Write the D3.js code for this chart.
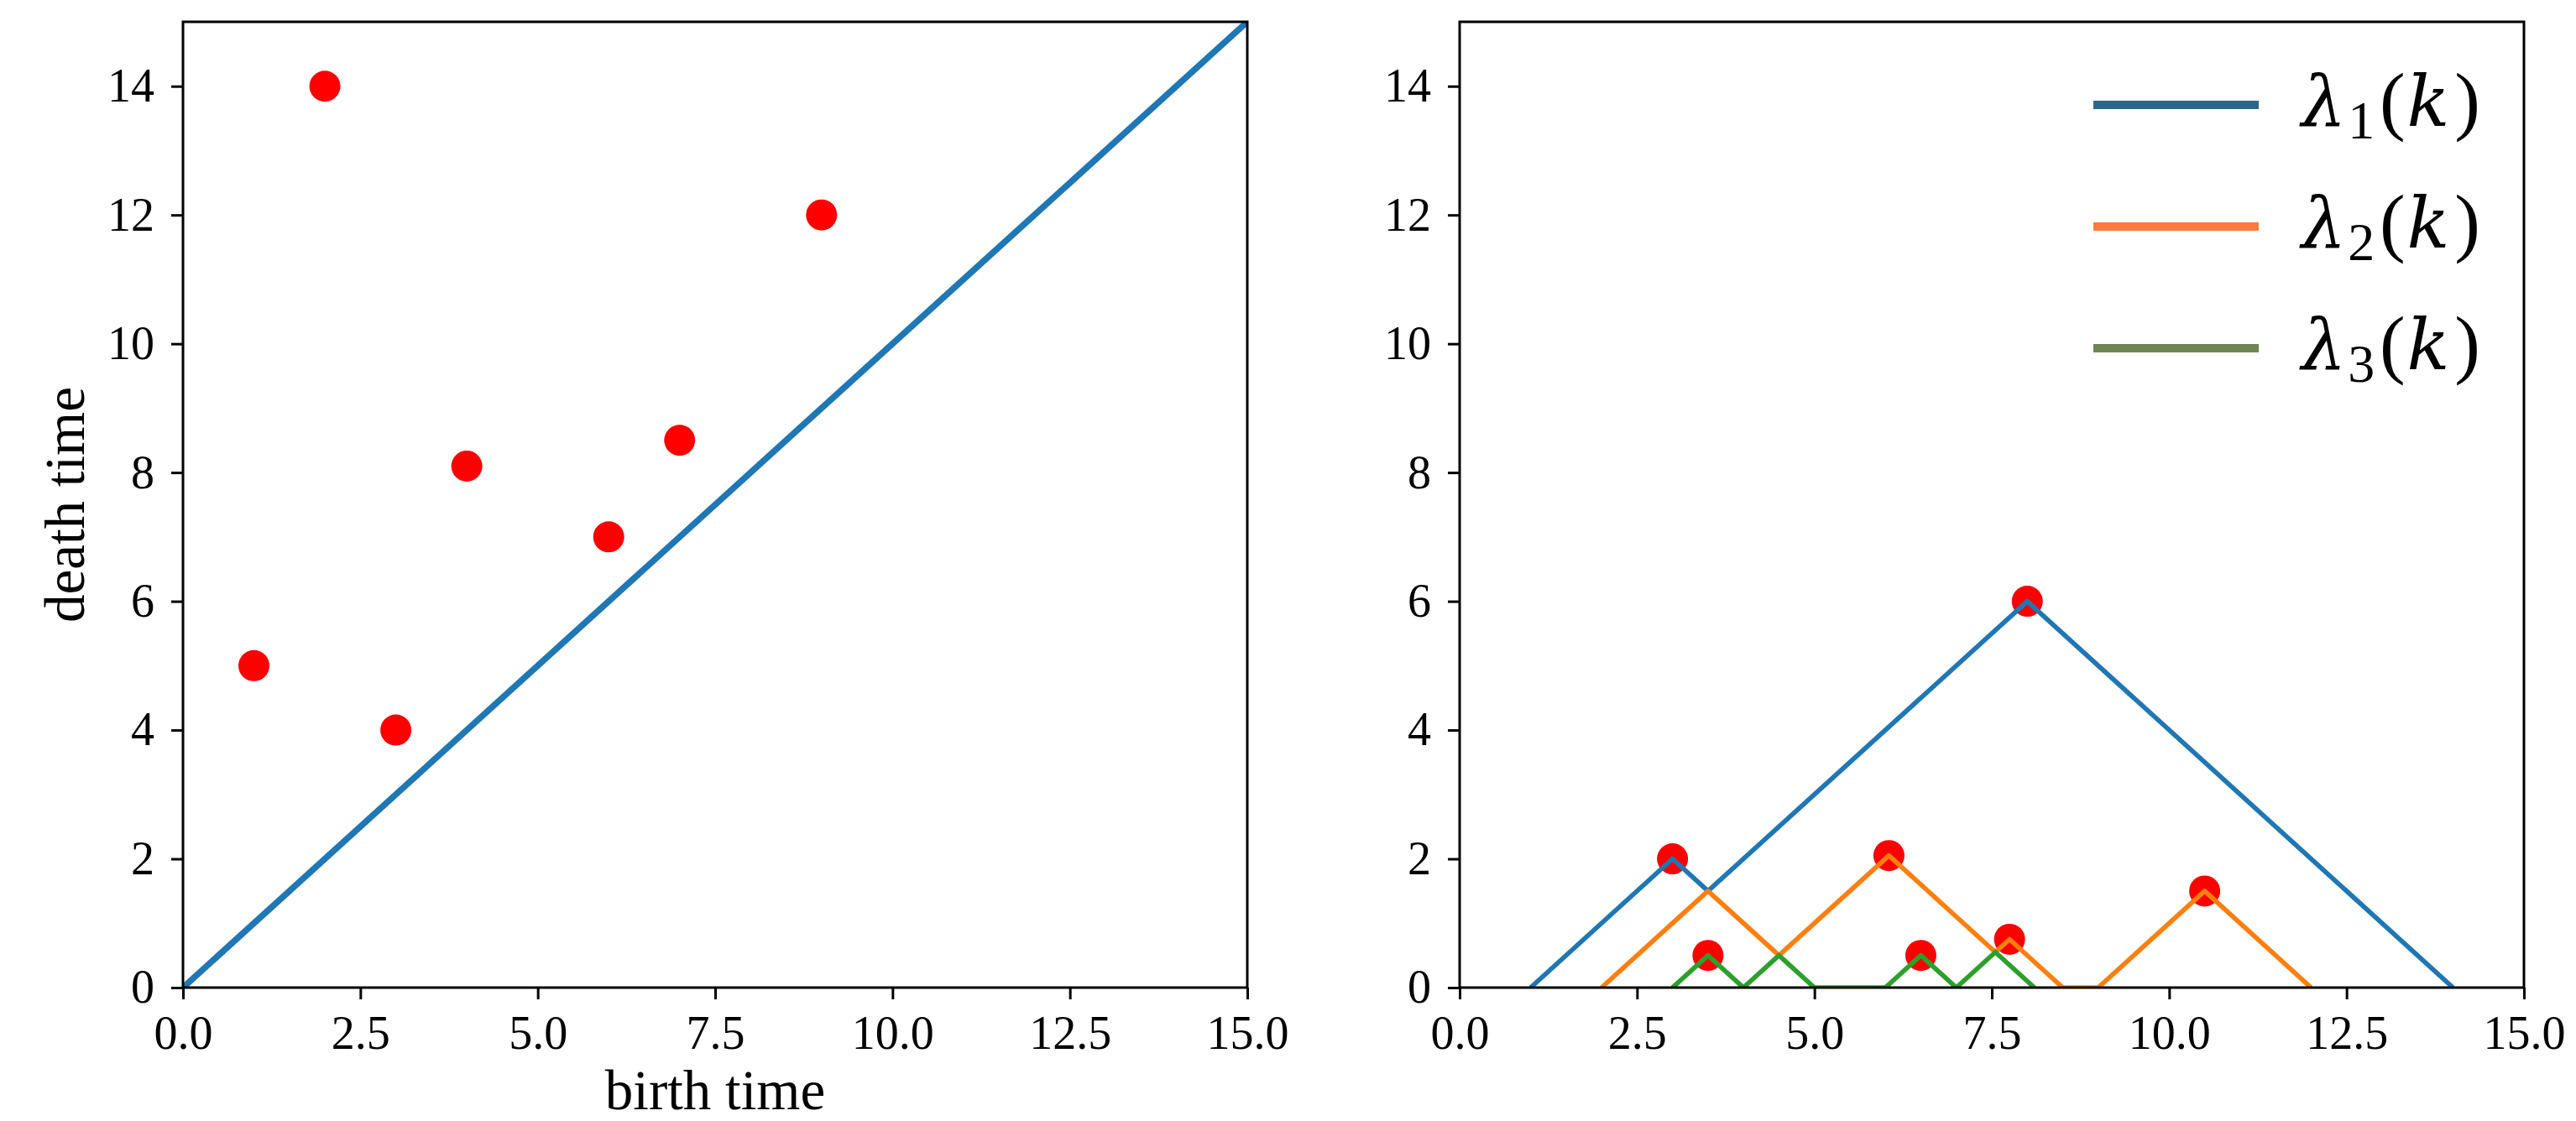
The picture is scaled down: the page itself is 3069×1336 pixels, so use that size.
<!DOCTYPE html>
<html><head><meta charset="utf-8">
<script src="https://cdn.jsdelivr.net/npm/d3@7"></script>
<style>body{margin:0;background:#fff}</style>
</head><body><svg id="c" width="3069" height="1336" xmlns="http://www.w3.org/2000/svg"></svg>
<script>
// ---- data ----
const birth = [1, 2, 3, 4, 6, 7, 9];
const death = [5, 14, 4, 8.1, 7, 8.5, 12];
const diagX = [0, 15];
const diagY = [0, 15];
const peakX = [3, 8, 3.5, 6.05, 6.5, 7.75, 10.5];
const peakY = [2, 6, 0.5, 2.05, 0.5, 0.75, 1.5];
const lam1X = [1, 3, 3.5, 8, 14];
const lam1Y = [0, 2, 1.5, 6, 0];
const lam2X = [2, 3.5, 4.5, 6.05, 7.55, 7.75, 8.5, 9, 10.5, 12];
const lam2Y = [0, 1.5, 0.5, 2.05, 0.55, 0.75, 0, 0, 1.5, 0];
const lam3X = [3, 3.5, 4, 4.5, 5, 6, 6.5, 7, 7.55, 8.1];
const lam3Y = [0, 0.5, 0, 0.5, 0, 0, 0.5, 0, 0.55, 0];
const xTicks = [0, 2.5, 5, 7.5, 10, 12.5, 15];
const yTicks = [0, 2, 4, 6, 8, 10, 12, 14];
const legendSubs = ["1", "2", "3"];
const xLabel = "birth time";
const yLabel = "death time";

// ---- layout / style ----
const FONT = "'Liberation Serif', 'DejaVu Serif', serif";
const MATHFONT = "'DejaVu Serif', 'Liberation Serif', serif";
const svg = d3.select("#c");
const yTop = 26, yBot = 1177;
const panels = [{x0: 218, x1: 1486, id: "L"}, {x0: 1739, x1: 3007, id: "R"}];
const lineColors = ["#1f77b4", "#ff7f0e", "#2ca02c"];
const legendColors = ["#2e6888", "#ff7a3d", "#6e8652"];

function makeScales(p) {
  return {
    x: d3.scaleLinear().domain([0, 15]).range([p.x0, p.x1]),
    y: d3.scaleLinear().domain([0, 15]).range([yBot, yTop])
  };
}

panels.forEach(p => {
  svg.append("clipPath").attr("id", "clip" + p.id)
    .append("rect").attr("x", p.x0).attr("y", yTop).attr("width", p.x1 - p.x0).attr("height", yBot - yTop);
});

function drawAxes(p, s) {
  const gx = svg.append("g").attr("transform", `translate(0,${yBot})`)
    .call(d3.axisBottom(s.x).tickValues(xTicks).tickFormat(d3.format(".1f")).tickSize(14).tickPadding(19));
  const gy = svg.append("g").attr("transform", `translate(${p.x0},0)`)
    .call(d3.axisLeft(s.y).tickValues(yTicks).tickFormat(d3.format("d")).tickSize(14).tickPadding(20));
  [gx, gy].forEach(g => {
    g.select(".domain").remove();
    g.selectAll(".tick line").attr("stroke", "#000").attr("stroke-width", 3);
    g.selectAll(".tick text").attr("fill", "#000").style("font-family", FONT).style("font-size", "56px");
  });
  svg.append("rect").attr("x", p.x0).attr("y", yTop).attr("width", p.x1 - p.x0).attr("height", yBot - yTop)
    .attr("fill", "none").attr("stroke", "#000").attr("stroke-width", 3);
}

const line = s => d3.line().x(d => s.x(d[0])).y(d => s.y(d[1]));

// ---- left panel ----
const sL = makeScales(panels[0]);
svg.append("path").datum(d3.zip(diagX, diagY)).attr("d", line(sL))
  .attr("fill", "none").attr("stroke", "#1f77b4").attr("stroke-width", 7.5)
  .attr("clip-path", "url(#clipL)");
svg.append("g").selectAll("circle").data(d3.zip(birth, death)).join("circle")
  .attr("cx", d => sL.x(d[0])).attr("cy", d => sL.y(d[1])).attr("r", 18.5).attr("fill", "#ff0000");
drawAxes(panels[0], sL);
svg.append("text").attr("x", (panels[0].x0 + panels[0].x1) / 2).attr("y", 1322)
  .attr("text-anchor", "middle").style("font-family", FONT).style("font-size", "67px").text(xLabel);
svg.append("text").attr("transform", `translate(100,${(yTop + yBot) / 2}) rotate(-90)`)
  .attr("text-anchor", "middle").style("font-family", FONT).style("font-size", "67px").text(yLabel);

// ---- right panel ----
const sR = makeScales(panels[1]);
svg.append("g").selectAll("circle").data(d3.zip(peakX, peakY)).join("circle")
  .attr("cx", d => sR.x(d[0])).attr("cy", d => sR.y(d[1])).attr("r", 18.5).attr("fill", "#ff0000");
const lams = [d3.zip(lam1X, lam1Y), d3.zip(lam2X, lam2Y), d3.zip(lam3X, lam3Y)];
lams.forEach((pts, i) => {
  svg.append("path").datum(pts).attr("d", line(sR))
    .attr("fill", "none").attr("stroke", lineColors[i]).attr("stroke-width", 5.6)
    .attr("stroke-linejoin", "round").attr("clip-path", "url(#clipR)");
});
drawAxes(panels[1], sR);

// ---- legend ----
const legY = [125, 270, 415];
legendSubs.forEach((sub, i) => {
  svg.append("line").attr("x1", 2494).attr("x2", 2691).attr("y1", legY[i]).attr("y2", legY[i])
    .attr("stroke", legendColors[i]).attr("stroke-width", 10);
  const t = svg.append("text").attr("x", 2742).attr("y", legY[i] + 25)
    .style("font-family", FONT).style("font-size", "92px").attr("fill", "#000")
    .attr("textLength", 213).attr("lengthAdjust", "spacing");
  t.append("tspan").style("font-family", MATHFONT).style("font-style", "italic").style("font-size", "84px").text("λ");
  t.append("tspan").attr("dy", 15).style("font-size", "64px").text(sub);
  t.append("tspan").attr("dy", -15).attr("dx", 4).text("(");
  t.append("tspan").style("font-family", MATHFONT).style("font-style", "italic").style("font-size", "84px").text("k");
  t.append("tspan").attr("dx", 4).text(")");
});
</script>
</body></html>
